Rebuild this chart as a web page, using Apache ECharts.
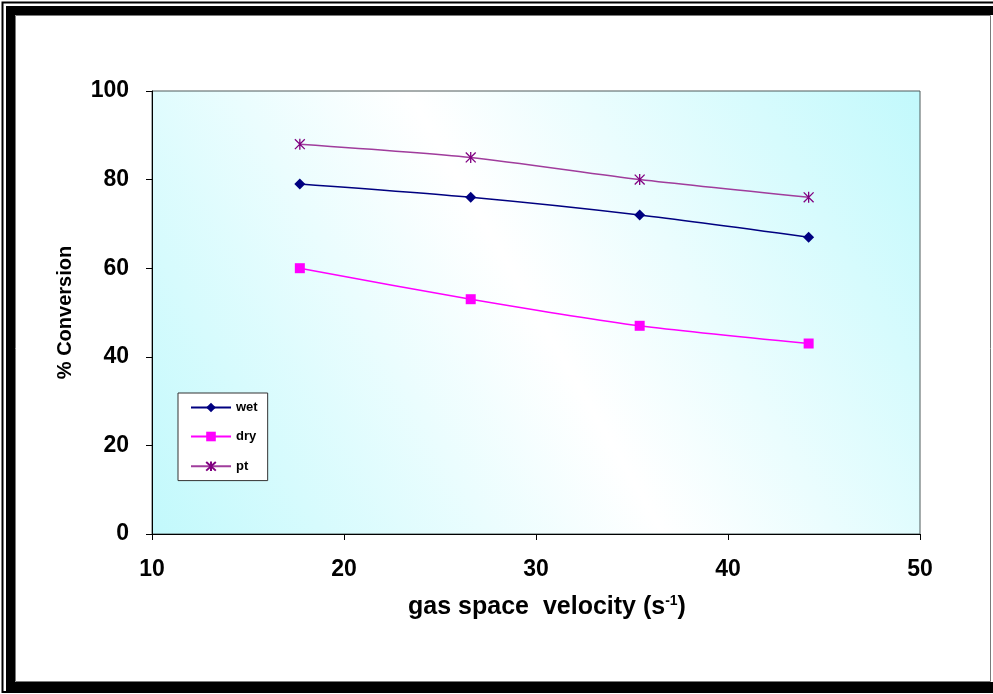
<!DOCTYPE html>
<html>
<head>
<meta charset="utf-8">
<script src="https://cdn.jsdelivr.net/npm/echarts@6/dist/echarts.min.js"></script>
<style>
  html, body { margin: 0; padding: 0; background: #ffffff; }
  #chart { width: 993px; height: 694px; }
</style>
</head>
<body>
<div id="chart"></div>
<script>
// Gas space velocity (s^-1) for each measurement
const velocity = [17.7, 26.6, 35.4, 44.2];
// % conversion per catalyst condition
const wet = [79, 76, 72, 67];
const dry = [60, 53, 47, 43];
const pt = [88, 85, 80, 76];

const FONT = '"Liberation Sans", Arial, sans-serif';
const pairs = (ys) => velocity.map((x, i) => [x, ys[i]]);

// asterisk marker drawn as stroked segments
const STAR = 'path://M5,0L5,10M0.5,0.5L9.5,9.5M0.5,9.5L9.5,0.5';

const chart = echarts.init(document.getElementById('chart'), null, { renderer: 'canvas' });

chart.setOption({
  animation: false,
  backgroundColor: '#ffffff',
  graphic: [
    // outer thin frame line
    { type: 'rect', z: -10, shape: { x: 2.5, y: 2.5, width: 1000, height: 689.5 },
      style: { fill: 'none', stroke: '#000', lineWidth: 2 } },
    // heavy frame bands
    { type: 'rect', z: -10, shape: { x: 6, y: 6, width: 990, height: 9 }, style: { fill: '#000' } },
    { type: 'rect', z: -10, shape: { x: 6, y: 6, width: 9, height: 685 }, style: { fill: '#000' } },
    { type: 'rect', z: -10, shape: { x: 6, y: 682, width: 990, height: 9 }, style: { fill: '#000' } },
    // inner white panel
    { type: 'rect', z: -9, shape: { x: 15.5, y: 15.5, width: 975, height: 666 },
      style: { fill: '#fff', stroke: '#7a7a7a', lineWidth: 1 } }
  ],
  grid: {
    left: 152, right: 73, top: 91, bottom: 160,
    show: true,
    borderColor: '#4e5a5a',
    borderWidth: 1,
    backgroundColor: new echarts.graphic.LinearGradient(0, 1, 1, 0, [
      { offset: 0, color: '#c2f9fc' },
      { offset: 0.5, color: '#ffffff' },
      { offset: 1, color: '#c2f9fc' }
    ])
  },
  legend: {
    orient: 'vertical',
    left: 178, top: 393,
    backgroundColor: '#ffffff',
    borderColor: '#333',
    borderWidth: 1,
    padding: [8, 10, 7, 12],
    itemWidth: 40, itemHeight: 12, itemGap: 16,
    textStyle: { fontFamily: FONT, fontWeight: 'bold', fontSize: 13, color: '#000' },
    data: ['wet', 'dry', 'pt']
  },
  xAxis: {
    type: 'value', min: 10, max: 50, interval: 10,
    name: '{a|gas space  velocity (s}{s|-1}{a|)}',
    nameLocation: 'middle', nameGap: 60,
    nameTextStyle: {
      padding: [0, 0, 0, 22],
      rich: {
        a: { fontFamily: FONT, fontWeight: 'bold', fontSize: 25, color: '#000' },
        s: { fontFamily: FONT, fontWeight: 'bold', fontSize: 14, color: '#000', verticalAlign: 'top', padding: [0, 0, 12, 0] }
      }
    },
    axisLine: { show: true, onZero: false, lineStyle: { color: '#000', width: 1 } },
    axisTick: { show: true, inside: false, length: 6, lineStyle: { color: '#000' } },
    axisLabel: { margin: 24, fontFamily: FONT, fontWeight: 'bold', fontSize: 23, color: '#000' },
    splitLine: { show: false }
  },
  yAxis: {
    type: 'value', min: 0, max: 100, interval: 20,
    name: '% Conversion',
    nameLocation: 'middle', nameGap: 77,
    nameTextStyle: { fontFamily: FONT, fontWeight: 'bold', fontSize: 20, color: '#000' },
    axisLine: { show: true, onZero: false, lineStyle: { color: '#000', width: 1 } },
    axisTick: { show: true, inside: false, length: 6, lineStyle: { color: '#000' } },
    axisLabel: { margin: 23, fontFamily: FONT, fontWeight: 'bold', fontSize: 23, color: '#000' },
    splitLine: { show: false }
  },
  series: [
    {
      name: 'wet', type: 'line', data: pairs(wet), smooth: 0.25,
      symbol: 'diamond', symbolSize: 11,
      lineStyle: { color: '#000080', width: 1.5 },
      itemStyle: { color: '#000080' }
    },
    {
      name: 'dry', type: 'line', data: pairs(dry), smooth: 0.25,
      symbol: 'rect', symbolSize: 10,
      lineStyle: { color: '#ff00ff', width: 1.5 },
      itemStyle: { color: '#ff00ff' }
    },
    {
      name: 'pt', type: 'line', data: pairs(pt), smooth: 0.25,
      symbol: STAR, symbolSize: 11, symbolKeepAspect: true,
      lineStyle: { color: '#a03c9c', width: 1.5 },
      itemStyle: { color: 'none', borderColor: '#800080', borderWidth: 1.3 }
    }
  ]
});
</script>
</body>
</html>
